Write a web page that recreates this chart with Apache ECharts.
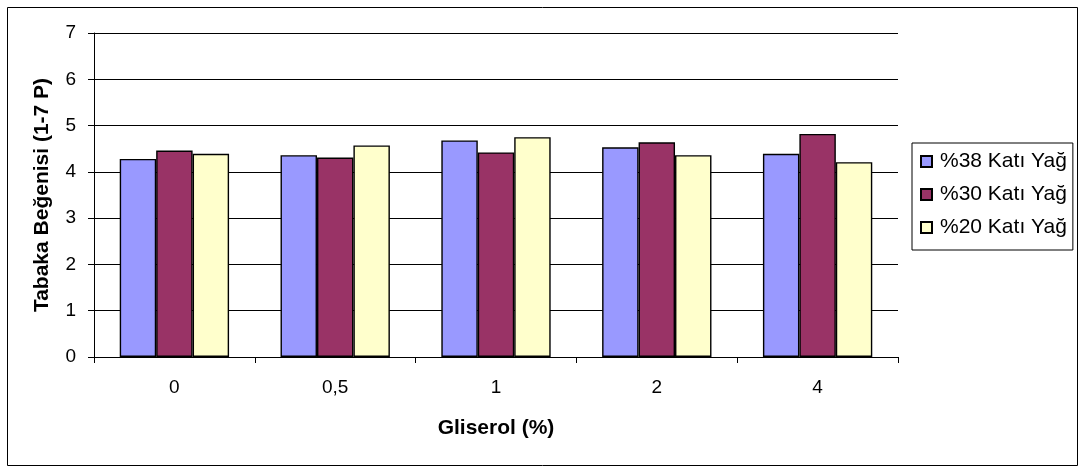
<!DOCTYPE html>
<html>
<head>
<meta charset="utf-8">
<script src="https://cdn.jsdelivr.net/npm/echarts@6/dist/echarts.min.js"></script>
<style>
  html, body { margin: 0; padding: 0; background: #fff; }
  #chart { width: 1085px; height: 470px; }
</style>
</head>
<body>
<div id="chart"></div>
<script>
// Glycerol levels on the x axis
const categories = ['0', '0,5', '1', '2', '4'];

// Sheet liking scores (1-7 point scale) per fat level
const fat38 = [4.28, 4.36, 4.68, 4.53, 4.39];
const fat30 = [4.46, 4.31, 4.42, 4.64, 4.82];
const fat20 = [4.39, 4.57, 4.75, 4.36, 4.21];

const seriesNames = ['%38 Katı Yağ', '%30 Katı Yağ', '%20 Katı Yağ'];
const seriesColors = ['#9999FF', '#993366', '#FFFFCC'];

const font = '"Liberation Sans", Arial, sans-serif';

const chart = echarts.init(document.getElementById('chart'), null, { renderer: 'canvas' });

const makeBar = (name, data, color) => ({
  name: name,
  type: 'bar',
  data: data,
  barGap: '0%',
  barCategoryGap: '32%',
  itemStyle: { color: color, borderColor: '#000', borderWidth: 1.4 },
  emphasis: { disabled: true }
});

chart.setOption({
  animation: false,
  backgroundColor: '#fff',
  graphic: [{
    type: 'rect',
    shape: { x: 7.5, y: 7.5, width: 1070, height: 458 },
    style: { fill: 'none', stroke: '#000', lineWidth: 1 },
    silent: true
  }],
  grid: { left: 94, right: 187, top: 33, bottom: 113, containLabel: false },
  legend: {
    orient: 'vertical',
    left: 912,
    top: 143,
    padding: [8, 6, 12, 8],
    itemWidth: 11,
    itemHeight: 11,
    itemGap: 12,
    borderColor: '#000',
    borderWidth: 1,
    icon: 'rect',
    textStyle: { fontFamily: font, fontSize: 21, color: '#000', padding: [0, 0, 0, 3] },
    data: seriesNames
  },
  xAxis: {
    type: 'category',
    data: categories,
    name: 'Gliserol (%)',
    nameLocation: 'middle',
    nameGap: 61,
    nameTextStyle: { fontFamily: font, fontSize: 21, fontWeight: 'bold', color: '#000' },
    axisLine: { lineStyle: { color: '#000', width: 1 } },
    axisTick: { show: true, length: 6, lineStyle: { color: '#000' } },
    axisLabel: { fontFamily: font, fontSize: 19, color: '#000', margin: 21 }
  },
  yAxis: {
    type: 'value',
    min: 0,
    max: 7,
    interval: 1,
    name: 'Tabaka Beğenisi (1-7 P)',
    nameLocation: 'middle',
    nameGap: 41,
    nameTextStyle: { fontFamily: font, fontSize: 21, fontWeight: 'bold', color: '#000', verticalAlign: 'bottom' },
    axisLine: { show: true, lineStyle: { color: '#000', width: 1 } },
    axisTick: { show: true, length: 6, lineStyle: { color: '#000' } },
    axisLabel: { fontFamily: font, fontSize: 19, color: '#000', margin: 18 },
    splitLine: { show: true, lineStyle: { color: '#000', width: 1 } }
  },
  series: [
    makeBar(seriesNames[0], fat38, seriesColors[0]),
    makeBar(seriesNames[1], fat30, seriesColors[1]),
    makeBar(seriesNames[2], fat20, seriesColors[2])
  ]
});
</script>
</body>
</html>
